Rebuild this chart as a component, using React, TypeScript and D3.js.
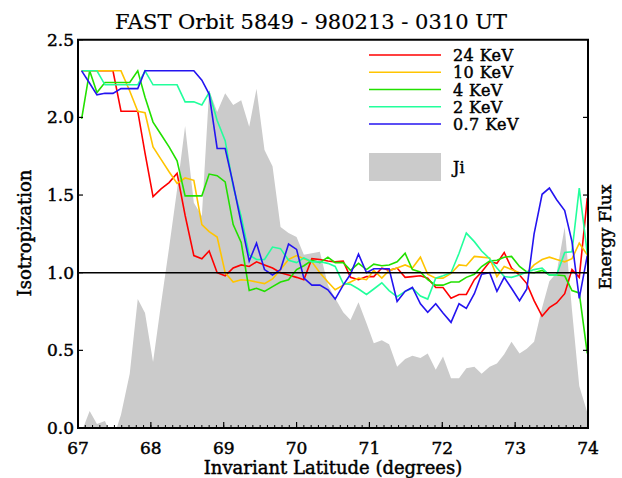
import React from "react";
import * as d3 from "d3";

// Invariant latitude of each sample (degrees)
const LAT = [
  67.05, 67.16, 67.26, 67.37, 67.48, 67.59, 67.71, 67.82, 67.92, 68.03,
  68.14, 68.25, 68.36, 68.47, 68.59, 68.7, 68.8, 68.91, 69.02, 69.13,
  69.24, 69.35, 69.45, 69.56, 69.67, 69.78, 69.89, 70.0, 70.1, 70.21,
  70.32, 70.43, 70.53, 70.64, 70.74, 70.85, 70.96, 71.06, 71.17, 71.27,
  71.38, 71.49, 71.59, 71.7, 71.8, 71.91, 72.01, 72.12, 72.23, 72.33,
  72.44, 72.54, 72.65, 72.75, 72.85, 72.95, 73.06, 73.16, 73.26, 73.37,
  73.47, 73.57, 73.68, 73.78, 73.88, 73.99,
];

// Isotropization ratio per energy channel
const ISO_24KEV = [
  2.3, 2.3, 2.3, 2.3, 2.3, 2.04, 2.04, 2.04, 1.77, 1.49,
  1.54, 1.58, 1.64, 1.37, 1.11, 1.09, 1.14, 1.0, 0.98, 1.03,
  1.05, 1.04, 1.07, 1.05, 1.03, 1.0, 0.985, 0.97, 0.955, 1.09,
  1.085, 1.075, 1.07, 1.075, 0.97, 0.955, 0.975, 0.975, 1.03, 1.015,
  1.03, 0.97, 0.975, 0.98, 0.965, 0.905, 0.905, 0.835, 0.86, 0.86,
  0.955, 1.005, 1.07, 1.06, 1.13, 1.03, 0.985, 0.93, 0.82, 0.72,
  0.775, 0.805, 0.865, 1.02, 0.97, 1.48,
];
const ISO_10KEV = [
  2.3, 2.3, 2.3, 2.3, 2.3, 2.3, 2.17, 2.04, 2.03, 1.81,
  1.73, 1.65, 1.575, 1.61, 1.595, 1.31, 1.265, 1.23, 1.0, 0.94,
  0.955, 0.95, 0.94, 0.93, 0.96, 1.02, 1.085, 1.11, 1.09, 1.07,
  1.0, 0.94, 0.89, 0.92, 0.94, 0.965, 0.955, 1.015, 0.965, 1.015,
  1.03, 1.05, 1.03, 1.1, 0.99, 0.965, 0.965, 0.995, 1.05, 1.045,
  1.105, 1.1, 1.095, 0.975, 1.04, 1.02, 1.0, 1.0, 1.05, 1.085,
  1.1, 1.085, 1.07, 1.09, 1.19, 1.115,
];
const ISO_4KEV = [
  1.99, 2.3, 2.16, 2.225, 2.225, 2.225, 2.225, 2.3, 2.13, 1.97,
  1.89, 1.81, 1.72, 1.495, 1.495, 1.495, 1.635, 1.625, 1.585, 1.31,
  1.195, 0.885, 0.9, 0.88, 0.91, 0.94, 0.955, 1.02, 1.045, 1.08,
  1.065, 1.1, 1.065, 1.065, 1.015, 1.06, 1.02, 1.055, 1.045, 1.05,
  1.07, 1.125, 1.02, 1.005, 0.955, 0.92, 0.92, 0.94, 0.94, 0.97,
  0.99, 1.04, 1.075, 1.08, 1.1, 1.105, 1.04, 1.005, 1.0, 1.015,
  0.985, 0.985, 0.98, 0.885, 0.87, 0.48,
];
const ISO_2KEV = [
  2.3, 2.3, 2.3, 2.21, 2.21, 2.21, 2.21, 2.21, 2.3, 2.21,
  2.21, 2.21, 2.21, 2.1, 2.1, 2.08, 2.16, 1.98, 1.85, 1.555,
  1.36, 1.115, 1.085, 1.085, 1.165, 1.155, 1.08, 1.065, 1.095, 1.07,
  1.07, 1.06, 1.04, 0.93, 0.925, 0.895, 0.86, 0.895, 0.935, 0.885,
  0.845, 0.88, 0.9, 0.85, 0.83, 0.965, 0.98, 1.0, 1.125, 1.255,
  1.2, 1.14, 1.09, 1.03, 0.975, 0.97, 0.985, 1.005, 1.02, 1.03,
  0.985, 0.985, 1.13, 1.135, 1.545, 1.125,
];
const ISO_07KEV = [
  2.3, 2.22, 2.145, 2.155, 2.155, 2.185, 2.185, 2.185, 2.3, 2.3,
  2.3, 2.3, 2.3, 2.3, 2.3, 2.24, 2.15, 1.8, 1.8, 1.57,
  1.32, 1.075, 1.19, 1.02, 0.985, 1.02, 1.185, 1.15, 0.965, 0.92,
  0.92, 0.89, 0.83, 0.92, 0.99, 1.12, 1.0, 1.025, 1.025, 1.025,
  0.815, 0.88, 0.905, 0.8, 0.745, 0.8, 0.74, 0.68, 0.8, 0.77,
  0.865, 0.99, 1.0, 0.88, 0.97, 0.9, 0.82, 0.895, 1.25, 1.505,
  1.545, 1.47, 1.4, 1.2, 0.835, 1.11,
];

// Ion energy flux Ji, log10 units
const JI_LOG10 = [
  3.95, 4.22, 4.05, 4.09, 3.85, 4.17, 4.7, 5.66, 5.48, 4.85,
  5.6, 6.32, 7.07, 7.89, 6.9, 6.73, 8.35, 8.07, 8.31, 8.16,
  8.22, 7.88, 8.37, 7.58, 7.37, 6.59, 6.51, 6.46, 6.23, 6.25,
  6.27, 5.84, 5.67, 5.49, 5.39, 5.62, 5.35, 5.09, 5.13, 5.08,
  4.79, 4.89, 4.93, 4.9, 4.96, 4.75, 4.92, 4.64, 4.64, 4.77,
  4.79, 4.7, 4.79, 4.83, 4.95, 5.11, 4.96, 5.02, 5.11, 5.55,
  5.89, 6.0, 6.59, 5.52, 4.54, 4.2,
];

const SERIES_NAMES = ["24 KeV", "10 KeV", "4 KeV", "2 KeV", "0.7 KeV"];
const SERIES_VALUES = [ISO_24KEV, ISO_10KEV, ISO_4KEV, ISO_2KEV, ISO_07KEV];
const SERIES_COLORS = ["#ff0000", "#ffc400", "#22e000", "#22ff9c", "#2414f0"];

const X_TICKS = [67, 68, 69, 70, 71, 72, 73, 74];
const Y_TICKS = [0, 0.5, 1, 1.5, 2, 2.5];
const FLUX_TICKS = [5, 6, 7, 8];

const FONT = "'DejaVu Serif', 'Liberation Serif', serif";

// slightly heavier-than-regular serif text
const heavy = { stroke: "#000", strokeWidth: 0.45, paintOrder: "stroke" as const };

export default function App() {
  const left = 78;
  const right = 588;
  const top = 39.75;
  const bottom = 428;

  const x = d3.scaleLinear().domain([67, 74]).range([left, right]);
  const y = d3.scaleLinear().domain([0, 2.5]).range([bottom, top]);
  const yFlux = d3.scaleLinear().domain([4, 9]).range([bottom, top]);

  const line = d3
    .line<number>()
    .x((_, i) => x(LAT[i]))
    .y((d) => y(d));

  const area = d3
    .area<number>()
    .x((_, i) => x(LAT[i]))
    .y0(yFlux(4))
    .y1((d) => yFlux(d));

  const minorTicks = d3.range(671, 741).map((v) => v / 10);

  const legendX1 = 369;
  const legendX2 = 441;
  const legendY0 = 55;
  const legendStep = 17.25;

  return (
    <svg
      width={622}
      height={478}
      style={{ position: "absolute", left: 0, top: 0, background: "#fff" }}
      fontFamily={FONT}
    >
      <defs>
        <clipPath id="plot-clip">
          <rect x={left} y={top} width={right - left} height={bottom - top} />
        </clipPath>
      </defs>

      {/* Ji energy flux */}
      <path d={area(JI_LOG10) ?? ""} fill="#cbcbcb" clipPath="url(#plot-clip)" />

      {/* isotropization curves */}
      <g clipPath="url(#plot-clip)">
        {SERIES_VALUES.map((vals, k) => (
          <path
            key={SERIES_NAMES[k]}
            d={line(vals) ?? ""}
            fill="none"
            stroke={SERIES_COLORS[k]}
            strokeWidth={1.6}
          />
        ))}
      </g>

      {/* reference level */}
      <line x1={left} x2={right} y1={y(1)} y2={y(1)} stroke="#000" strokeWidth={1.5} />

      {/* frame */}
      <rect
        x={left}
        y={top}
        width={right - left}
        height={bottom - top}
        fill="none"
        stroke="#000"
        strokeWidth={2}
      />

      {/* bottom ticks */}
      {minorTicks.map((t) => (
        <line key={`m${t}`} x1={x(t)} x2={x(t)} y1={bottom} y2={bottom - 3} stroke="#000" strokeWidth={1} />
      ))}
      {X_TICKS.map((t) => (
        <g key={`x${t}`}>
          <line x1={x(t)} x2={x(t)} y1={bottom} y2={bottom - 6} stroke="#000" strokeWidth={1.2} />
          <text x={x(t)} y={454} textAnchor="middle" fontSize={17} {...heavy}>
            {t}
          </text>
        </g>
      ))}

      {/* left ticks */}
      {Y_TICKS.map((t) => (
        <g key={`y${t}`}>
          <line x1={left} x2={left + 5} y1={y(t)} y2={y(t)} stroke="#000" strokeWidth={1.2} />
          <text x={74} y={y(t) + 6} textAnchor="end" fontSize={17} {...heavy}>
            {t.toFixed(1)}
          </text>
        </g>
      ))}

      {/* right (energy flux) ticks */}
      {FLUX_TICKS.map((t) => (
        <line
          key={`f${t}`}
          x1={right}
          x2={right - 5}
          y1={yFlux(t)}
          y2={yFlux(t)}
          stroke="#000"
          strokeWidth={1.2}
        />
      ))}

      {/* legend */}
      {SERIES_NAMES.map((name, k) => {
        const ly = legendY0 + k * legendStep;
        return (
          <g key={`l${name}`}>
            <line x1={legendX1} x2={legendX2} y1={ly} y2={ly} stroke={SERIES_COLORS[k]} strokeWidth={1.6} />
            <text x={453} y={ly + 6} fontSize={16} letterSpacing={0.4} {...heavy}>
              {name}
            </text>
          </g>
        );
      })}
      <rect x={legendX1} y={153} width={legendX2 - legendX1} height={28} fill="#cbcbcb" />
      <text x={453} y={173} fontSize={16} {...heavy}>
        Ji
      </text>

      {/* titles */}
      <text x={311} y={29} textAnchor="middle" fontSize={21} stroke="#000" strokeWidth={0.2}>
        FAST Orbit 5849 - 980213 - 0310 UT
      </text>
      <text x={333} y={474} textAnchor="middle" fontSize={18} {...heavy}>
        Invariant Latitude (degrees)
      </text>
      <text transform="translate(31,233) rotate(-90)" textAnchor="middle" fontSize={18} {...heavy}>
        Isotropization
      </text>
      <text transform="translate(611,237) rotate(-90)" textAnchor="middle" fontSize={17} {...heavy}>
        Energy Flux
      </text>
    </svg>
  );
}
